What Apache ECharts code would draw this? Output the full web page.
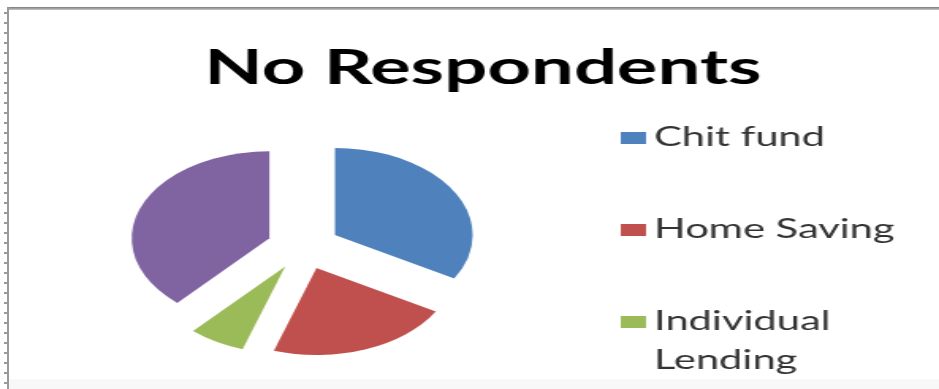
<!DOCTYPE html>
<html>
<head>
<meta charset="utf-8">
<script src="https://cdn.jsdelivr.net/npm/echarts@6/dist/echarts.min.js"></script>
<style>
  html, body { margin: 0; padding: 0; background: #fff; overflow: hidden; }
  #frame { position: absolute; left: 0; top: 0; width: 939px; height: 389px; overflow: hidden; background: #fff; }
  #topline { position: absolute; left: 7px; top: 7px; width: 932px; height: 3px; background: linear-gradient(#7a7a7a, #c8c8c8); }
  #leftline { position: absolute; left: 7px; top: 7px; width: 2px; height: 382px; background: #9a9a9a; }
  #ticks { position: absolute; left: 4px; top: 12px; width: 4px; height: 377px;
           background: repeating-linear-gradient(to bottom, #9a9a9a 0px, #9a9a9a 2px, transparent 2px, transparent 10px); }
  #bottomband { position: absolute; left: 9px; top: 379px; width: 930px; height: 10px; background: #f8f8f8; }
  #chart { position: absolute; left: 0; top: 0; width: 593px; height: 389px; transform: scaleX(1.5835); transform-origin: 0 0; }
</style>
</head>
<body>
<div id="frame">
  <div id="bottomband"></div>
  <div id="chart"></div>
  <div id="topline"></div>
  <div id="leftline"></div>
  <div id="ticks"></div>
</div>
<script>
// Data
const titleText = 'No Respondents';
const categories = ['Chit fund', 'Home Saving', 'Individual Lending', 'Others'];
const legendLabels = ['Chit fund', 'Home Saving', ' \nIndividual\nLending'];
const values = [20, 13, 4, 23];
const colors = ['#4F81BD', '#C0504D', '#9BBB59', '#8064A2'];

const chart = echarts.init(document.getElementById('chart'), null, { renderer: 'canvas' });

const pieData = categories.map((name, i) => ({
  name: name,
  value: values[i],
  selected: true,
  itemStyle: { color: colors[i] },
  select: { itemStyle: { color: colors[i], borderWidth: 0 } }
}));

const legendTops = [118.5, 210.5, 263.5];
const legends = legendLabels.map((lab, i) => ({
  orient: 'vertical',
  left: 392,
  top: legendTops[i],
  padding: 0,
  icon: 'rect',
  itemWidth: 16,
  itemHeight: 12,
  selectedMode: false,
  data: [categories[i]],
  formatter: () => lab,
  textStyle: {
    fontFamily: 'Lato',
    fontSize: 26.3,
    color: '#333333',
    lineHeight: 39
  }
}));

chart.setOption({
  animation: false,
  backgroundColor: 'transparent',
  title: {
    text: titleText,
    left: 124,
    top: 40,
    textStyle: { fontFamily: 'Lato', fontWeight: 'bold', fontSize: 48, color: '#000' }
  },
  legend: legends,
  series: [{
    type: 'pie',
    center: [191.6, 246.5],
    radius: 87,
    startAngle: 90,
    clockwise: true,
    selectedMode: 'multiple',
    selectedOffset: 23,
    label: { show: false },
    labelLine: { show: false },
    emphasis: { disabled: true },
    itemStyle: { borderWidth: 0 },
    data: pieData
  }]
});
</script>
</body>
</html>
